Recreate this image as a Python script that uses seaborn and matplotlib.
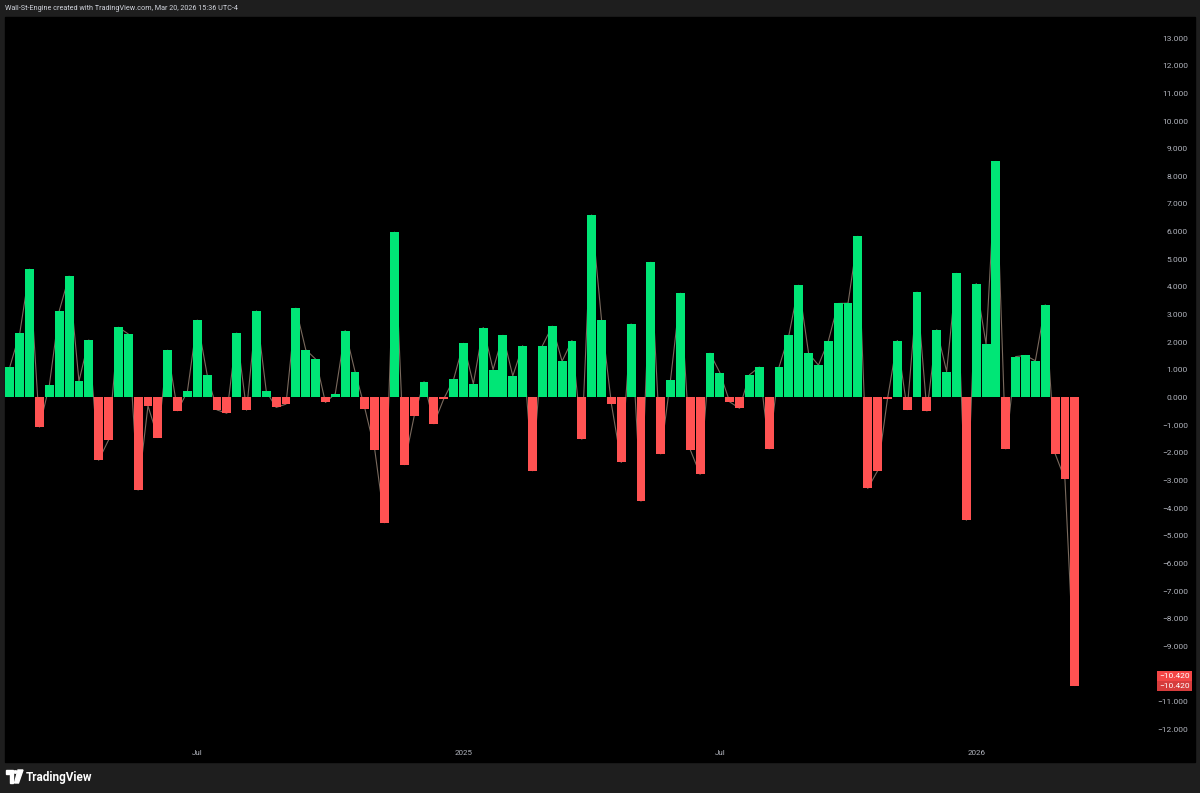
import matplotlib
matplotlib.use("Agg")
import matplotlib.pyplot as plt
from matplotlib.patches import Rectangle, Circle, Polygon
import seaborn as sns
import pandas as pd
import numpy as np

# weekly readings, first bar = week of 2024-02-19
values = [
    1.12, 2.33, 4.64, -1.07, 0.45, 3.13, 4.39, 0.59, 2.08, -2.27,
    -1.54, 2.54, 2.30, -3.35, -0.30, -1.45, 1.71, -0.48, 0.22, 2.80,
    0.83, -0.45, -0.57, 2.33, -0.46, 3.13, 0.22, -0.36, -0.24, 3.23,
    1.73, 1.39, -0.18, 0.14, 2.42, 0.94, -0.40, -1.89, -4.53, 5.98,
    -2.43, -0.67, 0.57, -0.95, -0.05, 0.66, 1.96, 0.49, 2.53, 1.01,
    2.25, 0.78, 1.87, -2.65, 1.87, 2.58, 1.31, 2.06, -1.51, 6.60,
    2.81, -0.23, -2.35, 2.66, -3.75, 4.89, -2.04, 0.64, 3.77, -1.89,
    -2.78, 1.60, 0.90, -0.16, -0.39, 0.82, 1.10, -1.86, 1.10, 2.25,
    4.06, 1.60, 1.17, 2.04, 3.40, 3.41, 5.83, -3.29, -2.65, -0.05,
    2.06, -0.44, 3.81, -0.49, 2.45, 0.94, 4.49, -4.44, 4.12, 1.93,
    8.54, -1.86, 1.48, 1.52, 1.33, 3.35, -2.03, -2.96, -10.42,
]
start_week = "2024-02-19"
tick_months = ["2024-07", "2025-01", "2025-07", "2026-01"]
tick_names = ["Jul", "2025", "Jul", "2026"]
y_ticks = list(range(-12, 14))

W, H = 1200, 793
FRAME = "#1e1e1e"
BG = "#000000"
UP = "#00e676"
DOWN = "#ff5252"
TXT = "#b2b5be"

weeks = pd.date_range(start_week, periods=len(values), freq="W-MON")
df = pd.DataFrame({"pos": np.arange(len(values)), "week": weeks, "value": values})
df["side"] = np.where(df["value"] >= 0, "up", "down")

sns.set_theme(style="dark", rc={"axes.facecolor": BG, "figure.facecolor": FRAME})
plt.rcParams["font.family"] = ["Roboto", "DejaVu Sans"]


def fx(px):
    return px / W


def fy(py):
    return 1 - py / H


fig = plt.figure(figsize=(W / 100, H / 100), dpi=100, facecolor=FRAME)

# black chart panel inside the grey frame
fig.patches.append(Rectangle((fx(5), fy(762)), (1195 - 5) / W, (762 - 17) / H,
                             transform=fig.transFigure, color=BG, zorder=-10))

ax = fig.add_axes([fx(5), fy(740), (1150 - 5) / W, (740 - 17) / H])
ax.set_facecolor(BG)
ax.set_zorder(1)

# thin line joining the column ends, sitting behind the columns
ax.plot(df["pos"], df["value"], color="#7a6a5e", lw=0.8, zorder=1)

sns.barplot(data=df, x="pos", y="value", hue="side",
            palette={"up": UP, "down": DOWN}, native_scale=True,
            width=0.9, dodge=False, saturation=1, errorbar=None,
            legend=False, linewidth=0, ax=ax, zorder=2)

ax.set_xlim(-0.5, -0.5 + (1150 - 5) / 9.86)
ax.set_ylim(-342.5 / 27.65, 380.5 / 27.65)
ax.grid(False)
for s in ax.spines.values():
    s.set_visible(False)
ax.set_xlabel("")
ax.set_ylabel("")

tick_pos = [df.loc[df["week"].dt.strftime("%Y-%m") == m, "pos"].iloc[0] for m in tick_months]
ax.set_xticks(tick_pos)
ax.set_xticklabels(tick_names)
ax.tick_params(axis="x", length=0, pad=7, labelsize=5.8, colors=TXT)

ax.yaxis.tick_right()
ax.set_yticks(y_ticks)
ax.set_yticklabels([f"{v:.3f}".replace("-", "\u2212") for v in y_ticks])
ax.tick_params(axis="y", length=0, pad=38 * 0.72, labelsize=6, colors=TXT)
for lbl in ax.get_yticklabels():
    lbl.set_ha("right")

# last value tags on the price scale
last = values[-1]
last_txt = f"{last:.3f}".replace("-", "\u2212")
for dy, col in [(9.5, "#f44646"), (0, "#d63c3c")]:
    ax.annotate(last_txt, xy=(1, last), xycoords=("axes fraction", "data"),
                xytext=(40, dy), textcoords="offset pixels", ha="right", va="center",
                fontsize=6, color="white", annotation_clip=False, zorder=5,
                bbox=dict(boxstyle="square,pad=0.25", fc=col, ec="none"))

# header
fig.text(fx(5), fy(9), "Wall-St-Engine created with TradingView.com, Mar 20, 2026 15:36 UTC-4",
         fontsize=5.2, color="#d1d4dc", va="center")

# footer logo
logo = [
    Polygon([(fx(6), fy(770)), (fx(13), fy(770)), (fx(13), fy(783)), (fx(10), fy(783)),
             (fx(10), fy(774)), (fx(6), fy(774))], closed=True),
    Circle((fx(15.5), fy(772)), 1.8 / W),
    Polygon([(fx(18), fy(770)), (fx(23), fy(770)), (fx(18.5), fy(783)), (fx(14.5), fy(783))],
            closed=True),
]
for p in logo:
    p.set_transform(fig.transFigure)
    p.set_color("white")
    fig.patches.append(p)
fig.text(fx(26), fy(777), "TradingView", fontsize=8.5, fontweight="bold",
         color="white", va="center")

fig.savefig("out.png", dpi=100, facecolor=FRAME)
